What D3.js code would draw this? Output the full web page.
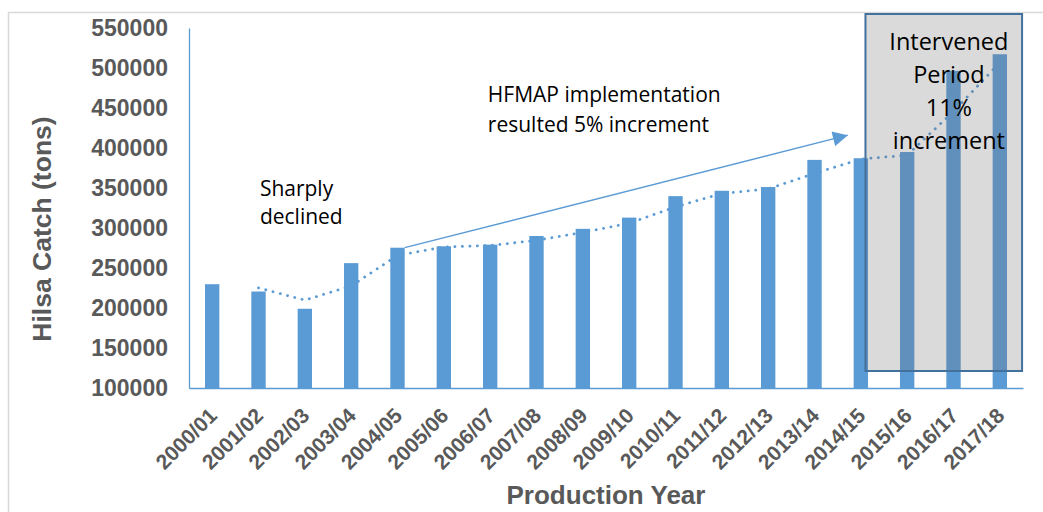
<!DOCTYPE html>
<html>
<head>
<meta charset="utf-8">
<script src="https://cdn.jsdelivr.net/npm/d3@7"></script>
<style>
  body { margin: 0; background: #ffffff; }
  #chart { width: 1043px; height: 512px; }
</style>
</head>
<body>
<div id="chart"></div>
<script>
////////////////////////////////////////////////////////////////////////
//
// Hilsa catch by production year -- bar chart with 2 period moving avg
//
////////////////////////////////////////////////////////////////////////

// production years (x categories)
var years = ["2000/01", "2001/02", "2002/03", "2003/04", "2004/05", "2005/06",
             "2006/07", "2007/08", "2008/09", "2009/10", "2010/11", "2011/12",
             "2012/13", "2013/14", "2014/15", "2015/16", "2016/17", "2017/18"];

// hilsa catch in tons
var catchTons = [229714, 220593, 199032, 256089, 275359, 277123,
                 279189, 290000, 298921, 313000, 339845, 346512,
                 351223, 385140, 387211, 394951, 496417, 517198];

// y axis tick labels
var yTicks = [100000, 150000, 200000, 250000, 300000, 350000,
              400000, 450000, 500000, 550000];

var blue = "#5b9bd5";
var grey = "#595959";


function init()
  {
  var svg = d3.select("#chart")
    .append("svg")
    .attr("width", 1043)
    .attr("height", 512);

  //Chart area outline (runs off the right and bottom of the picture)
  svg.append("rect")
    .attr("x", 8.5).attr("y", 12.5)
    .attr("width", 1100).attr("height", 600)
    .attr("fill", "none")
    .attr("stroke", "#d9d9d9")
    .attr("stroke-width", 1.5);

  var x = d3.scaleBand()
    .domain(years)
    .range([189, 1023])
    .paddingInner(0.69)
    .paddingOuter(0.345);

  var y = d3.scaleLinear()
    .domain([100000, 550000])
    .range([388, 28]);

  //position in band units, used to pin the annotations to the plot
  var xAt = function(i) { return x.range()[0] + i * x.step(); };

  drawAxes(svg, x, y);
  drawBars(svg, x, y);
  drawMovingAverage(svg, x, y);
  drawAnnotations(svg, x, y, xAt);
  }


////////////////////////////////////////////////////////////////////////
//
// axes, tick labels and axis titles
//
////////////////////////////////////////////////////////////////////////
function drawAxes(svg, x, y)
  {
  var yAxis = svg.append("g")
    .attr("transform", "translate(189,0)")
    .call(d3.axisLeft(y).tickValues(yTicks).tickSize(0).tickPadding(21).tickFormat(d3.format("d")));

  yAxis.select(".domain").attr("stroke", blue).attr("stroke-width", 1.3);
  yAxis.selectAll("text")
    .attr("fill", grey)
    .style("font-family", "'Liberation Sans', Arial, sans-serif")
    .style("font-weight", "bold")
    .style("font-size", "23px");

  var xAxis = svg.append("g")
    .attr("transform", "translate(0,388)")
    .call(d3.axisBottom(x).tickSize(0).tickSizeOuter(0));

  xAxis.select(".domain").attr("stroke", blue).attr("stroke-width", 1.3);
  xAxis.selectAll("text")
    .attr("x", 0).attr("y", 0).attr("dy", 0)
    .attr("transform", "translate(6,29) rotate(-45)")
    .style("text-anchor", "end")
    .attr("fill", grey)
    .style("font-family", "'Liberation Sans', Arial, sans-serif")
    .style("font-weight", "bold")
    .style("font-size", "21px");

  //axis titles
  svg.append("text")
    .attr("transform", "translate(51,229) rotate(-90)")
    .attr("text-anchor", "middle")
    .attr("fill", grey)
    .style("font-family", "'Liberation Sans', Arial, sans-serif")
    .style("font-weight", "bold")
    .style("font-size", "26.5px")
    .text("Hilsa Catch (tons)");

  svg.append("text")
    .attr("x", (x.range()[0] + x.range()[1]) / 2)
    .attr("y", 504)
    .attr("text-anchor", "middle")
    .attr("fill", grey)
    .style("font-family", "'Liberation Sans', Arial, sans-serif")
    .style("font-weight", "bold")
    .style("font-size", "26px")
    .text("Production Year");
  }


////////////////////////////////////////////////////////////////////////
//
// one bar per production year
//
////////////////////////////////////////////////////////////////////////
function drawBars(svg, x, y)
  {
  svg.append("g")
    .selectAll("rect")
    .data(years)
    .enter()
    .append("rect")
    .attr("x", function(d) { return x(d); })
    .attr("width", x.bandwidth())
    .attr("y", function(d, i) { return y(catchTons[i]); })
    .attr("height", function(d, i) { return y(100000) - y(catchTons[i]); })
    .attr("fill", blue);
  }


////////////////////////////////////////////////////////////////////////
//
// dotted trend line: 2 period moving average like excel draws it
//
////////////////////////////////////////////////////////////////////////
function drawMovingAverage(svg, x, y)
  {
  var avg = [];
  for (var i = 1; i < years.length; i++)
    {
    avg.push({year: years[i], value: (catchTons[i - 1] + catchTons[i]) / 2});
    }

  var line = d3.line()
    .x(function(d) { return x(d.year) + x.bandwidth() / 2; })
    .y(function(d) { return y(d.value); });

  svg.append("path")
    .datum(avg)
    .attr("d", line)
    .attr("fill", "none")
    .attr("stroke", blue)
    .attr("stroke-width", 2.8)
    .attr("stroke-linecap", "round")
    .attr("stroke-dasharray", "0.1 7.4");
  }


////////////////////////////////////////////////////////////////////////
//
// arrow, text notes and the shaded intervened period box
//
////////////////////////////////////////////////////////////////////////
function drawAnnotations(svg, x, y, xAt)
  {
  var font = "'Open Sans', 'Noto Sans', sans-serif";

  svg.append("defs")
    .append("marker")
    .attr("id", "head")
    .attr("viewBox", "0 0 10 10")
    .attr("refX", 10).attr("refY", 5)
    .attr("markerUnits", "userSpaceOnUse")
    .attr("markerWidth", 17).attr("markerHeight", 15)
    .attr("orient", "auto")
    .append("path")
    .attr("d", "M0,0 L10,5 L0,10 Z")
    .attr("fill", blue);

  //arrow from the top of the 2004/05 bar
  svg.append("line")
    .attr("x1", x("2004/05") + x.bandwidth())
    .attr("y1", y(catchTons[4]))
    .attr("x2", xAt(14.22))
    .attr("y2", y(416000))
    .attr("stroke", blue)
    .attr("stroke-width", 1.3)
    .attr("marker-end", "url(#head)");

  var note1 = svg.append("text")
    .attr("fill", "#000")
    .style("font-family", font)
    .style("font-size", "21px");
  note1.append("tspan").attr("x", xAt(6.45)).attr("y", y(458000)).text("HFMAP implementation");
  note1.append("tspan").attr("x", xAt(6.45)).attr("dy", 30).text("resulted 5% increment");

  var note2 = svg.append("text")
    .attr("fill", "#000")
    .style("font-family", font)
    .style("font-size", "21px");
  note2.append("tspan").attr("x", xAt(1.53)).attr("y", y(340500)).text("Sharply");
  note2.append("tspan").attr("x", xAt(1.53)).attr("dy", 28.5).text("declined");

  //intervened period box, see-through so the bars show darker under it
  svg.append("rect")
    .attr("x", xAt(14.6))
    .attr("y", y(567500))
    .attr("width", xAt(17.98) - xAt(14.6))
    .attr("height", y(121250) - y(567500))
    .attr("fill", "#717171")
    .attr("fill-opacity", 0.26)
    .attr("stroke", "#41719c")
    .attr("stroke-width", 2);

  var lines = ["Intervened", "Period", "11%", "increment"];
  svg.append("text")
    .attr("text-anchor", "middle")
    .attr("fill", "#000")
    .style("font-family", font)
    .style("font-size", "23.5px")
    .selectAll("tspan")
    .data(lines)
    .enter()
    .append("tspan")
    .attr("x", xAt(16.4))
    .attr("y", function(d, i) { return y(522500) + i * 33; })
    .text(function(d) { return d; });
  }


init();
</script>
</body>
</html>
